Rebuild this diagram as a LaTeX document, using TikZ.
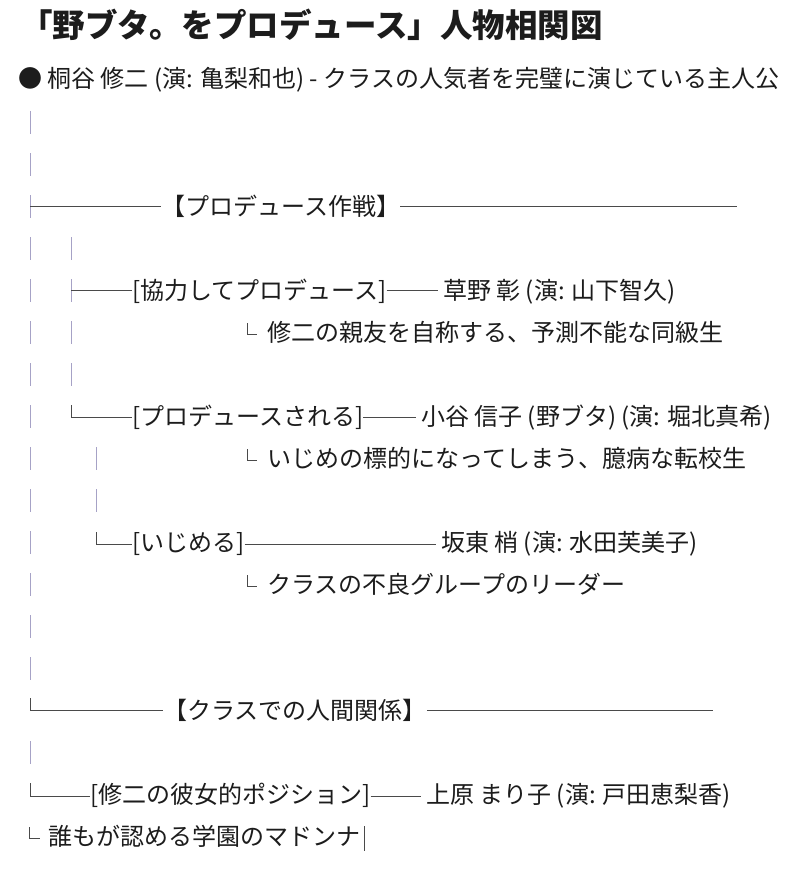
\documentclass[tikz,border=0pt]{standalone}
\usepackage{fontspec}
\setmainfont{Noto Sans CJK JP}
\definecolor{ink}{HTML}{1C1C1C}
\definecolor{rulegray}{HTML}{4A4A4A}
\definecolor{bargray}{HTML}{A6A2C6}
\begin{document}
\begin{tikzpicture}[x=1pt,y=-1pt]
  \tikzstyle{txt}=[anchor=base west,inner sep=0pt,text=ink,font=\fontsize{24}{28}\selectfont]
  \tikzstyle{heading}=[txt,font=\fontsize{32.5}{38}\selectfont\bfseries]
  \tikzstyle{rule}=[draw=rulegray,line width=0.9pt]
  \tikzstyle{bar}=[draw=bargray,line width=1pt]
  \tikzstyle{hook}=[draw=rulegray,line width=0.8pt]
  \useasboundingbox[fill=white] (0,0) rectangle (800,880);

  \node[heading] (title) at (20,38) {「野ブタ。をプロデュース」人物相関図};
  \node[txt] (shuji) at (18,87.5) {● 桐谷 修二 (演: 亀梨和也) - クラスの人気者を完璧に演じている主人公};

  \foreach \y in {123,165,...,669}
    \draw[bar] (30,\y-12) -- (30,\y+11);
  \draw[bar] (30,741) -- (30,764);
  \foreach \y in {249,291,...,375}
    \draw[bar] (71,\y-12) -- (71,\y+11);
  \foreach \y in {459,501}
    \draw[bar] (96,\y-12) -- (96,\y+11);

  \coordinate (fork1) at (30,206);
  \node[txt] (plan) at (161,215.5) {【プロデュース作戦】};
  \coordinate (plan end) at (737,206);
  \draw[rule] (fork1) -- (fork1 -| plan.west);
  \draw[rule] (plan.east |- fork1) -- (plan end);

  \coordinate (fork2) at (71,290);
  \node[txt] (coop) at (132,299.5) {[協力してプロデュース]};
  \node[txt] (akira) at (443,299.5) {草野 彰 (演: 山下智久)};
  \draw[rule] (fork2) -- (fork2 -| coop.west);
  \draw[rule,shorten >=5pt] (coop.east |- fork2) -- (fork2 -| akira.west);

  \node[txt] (akira note) at (267,341.5) {修二の親友を自称する、予測不能な同級生};
  \draw[hook] (247,323) |- (257,334);

  \coordinate (fork3) at (71,417);
  \node[txt] (produced) at (132,425.5) {[プロデュースされる]};
  \node[txt] (nobuta) at (421,425.5) {小谷 信子 (野ブタ) (演: 堀北真希)};
  \draw[rule] ([yshift=12pt]fork3) -- (fork3) -- (fork3 -| produced.west);
  \draw[rule,shorten >=5pt] (produced.east |- fork3) -- (fork3 -| nobuta.west);

  \node[txt] (nobuta note) at (267,467.5) {いじめの標的になってしまう、臆病な転校生};
  \draw[hook] (247,449) |- (257,460);

  \coordinate (fork4) at (96,544);
  \node[txt] (bully) at (132,551.5) {[いじめる]};
  \node[txt] (kozue) at (441,551.5) {坂東 梢 (演: 水田芙美子)};
  \draw[rule] ([yshift=12pt]fork4) -- (fork4) -- (fork4 -| bully.west);
  \draw[rule,shorten >=5pt] (bully.east |- fork4) -- (fork4 -| kozue.west);

  \node[txt] (kozue note) at (267,593.5) {クラスの不良グループのリーダー};
  \draw[hook] (247,575) |- (257,586);

  \coordinate (fork5) at (30,710);
  \node[txt] (classroom) at (163,719.5) {【クラスでの人間関係】};
  \coordinate (classroom end) at (713,710);
  \draw[rule] ([yshift=12pt]fork5) -- (fork5) -- (fork5 -| classroom.west);
  \draw[rule] (classroom.east |- fork5) -- (classroom end);

  \coordinate (fork6) at (30,796);
  \node[txt] (girlfriend) at (90,803.5) {[修二の彼女的ポジション]};
  \node[txt] (mariko) at (426,803.5) {上原 まり子 (演: 戸田恵梨香)};
  \draw[rule] ([yshift=13pt]fork6) -- (fork6) -- (fork6 -| girlfriend.west);
  \draw[rule,shorten >=5pt] (girlfriend.east |- fork6) -- (fork6 -| mariko.west);

  \node[txt] (madonna) at (48,845.5) {誰もが認める学園のマドンナ};
  \draw[hook] (29,827) |- (40,838);
  \draw[rulegray,line width=0.9pt] ([xshift=4pt,yshift=19.5pt]madonna.base east) -- ([xshift=4pt,yshift=-5.5pt]madonna.base east);
\end{tikzpicture}
\end{document}
